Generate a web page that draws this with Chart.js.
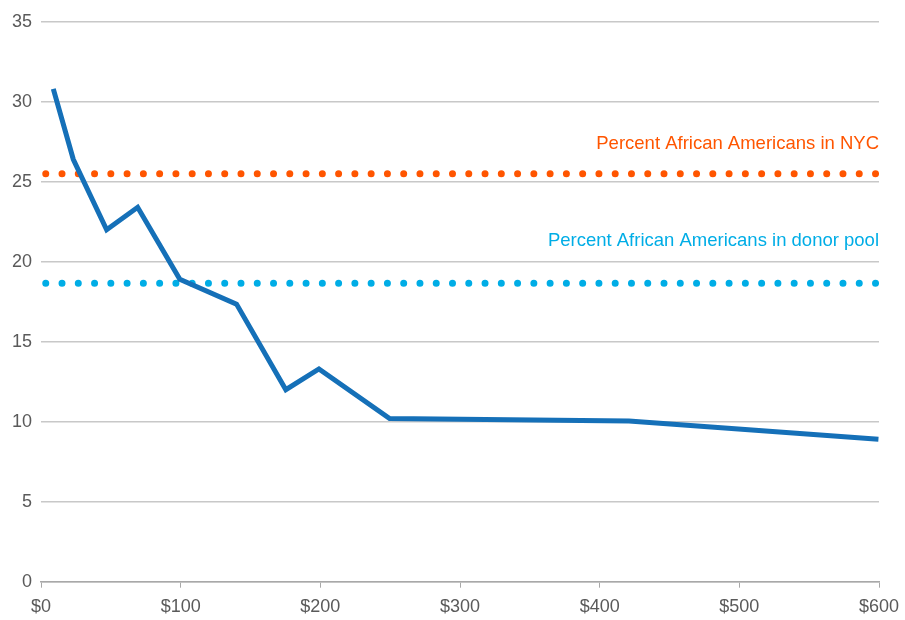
<!DOCTYPE html>
<html>
<head>
<meta charset="utf-8">
<script src="https://cdn.jsdelivr.net/npm/chart.js@4"></script>
<style>
  html, body { margin:0; padding:0; background:#fff; }
  #wrap { width:905px; height:620px; }
</style>
</head>
<body>
<div id="wrap"><canvas id="c" width="905" height="620"></canvas></div>
<script>
// donation size ($) vs percent African American donors
const donationX = [8.8, 23.1, 47, 69.2, 99.4, 140, 175.3, 199, 249.6, 421, 599.6];
const pctAfricanAmerican = [30.8, 26.4, 22.0, 23.4, 18.9, 17.35, 12.0, 13.3, 10.2, 10.05, 8.9];

// reference levels
const refSpanX = [3.4, 599.2];
const nycPct = 25.5;
const donorPoolPct = 18.65;
const refLabels = ['Percent African Americans in NYC', 'Percent African Americans in donor pool'];

const xTicks = [0, 100, 200, 300, 400, 500, 600];
const yTicks = [0, 5, 10, 15, 20, 25, 30, 35];

const BLUE = '#1570b8', ORANGE = '#ff5500', CYAN = '#00ade6';
const TICK_COLOR = '#5a5a5a';
const FONT = "'Liberation Sans', Arial, Helvetica, sans-serif";

const pts = donationX.map((x, i) => ({ x, y: pctAfricanAmerican[i] }));
const refLine = v => refSpanX.map(x => ({ x, y: v }));

const dotted = color => ({
  borderColor: color, borderWidth: 7, borderDash: [0, 16.27],
  borderCapStyle: 'round', pointRadius: 0, fill: false, tension: 0
});

// text labels above the reference lines
const refLabelPlugin = {
  id: 'refLabels',
  afterDatasetsDraw(chart){
    const { ctx, chartArea, scales:{ y } } = chart;
    ctx.save();
    ctx.font = '18.5px ' + FONT;
    ctx.textAlign = 'right';
    ctx.textBaseline = 'middle';
    ctx.fillStyle = ORANGE;
    ctx.fillText(refLabels[0], chartArea.right, y.getPixelForValue(nycPct) - 30);
    ctx.fillStyle = CYAN;
    ctx.fillText(refLabels[1], chartArea.right, y.getPixelForValue(donorPoolPct) - 42);
    ctx.restore();
  }
};

new Chart(document.getElementById('c'), {
  type: 'line',
  data: {
    datasets: [
      { data: pts, borderColor: BLUE, borderWidth: 5, pointRadius: 0, fill: false, tension: 0, borderJoinStyle: 'miter' },
      Object.assign({ data: refLine(nycPct) }, dotted(ORANGE)),
      Object.assign({ data: refLine(donorPoolPct) }, dotted(CYAN))
    ]
  },
  options: {
    responsive: false,
    animation: false,
    layout: { padding: { top: 21.7, right: 26, bottom: 0, left: 0 } },
    plugins: { legend: { display: false }, tooltip: { enabled: false } },
    scales: {
      x: {
        type: 'linear', min: 0, max: 600,
        afterBuildTicks: s => { s.ticks = xTicks.map(v => ({ value: v })); },
        afterFit: s => { s.height = 38.3; s.paddingLeft = 0; s.paddingRight = 0; },
        grid: { drawOnChartArea: false, drawTicks: true, tickLength: 6, color: '#a8a8a8', lineWidth: 1 },
        border: { display: true, color: '#a8a8a8', width: 1.5 },
        ticks: { color: TICK_COLOR, font: { family: FONT, size: 18 }, padding: 9, maxRotation: 0,
                 callback: v => '$' + v }
      },
      y: {
        min: 0, max: 35,
        afterBuildTicks: s => { s.ticks = yTicks.map(v => ({ value: v })); },
        afterFit: s => { s.width = 41; s.paddingTop = 0; s.paddingBottom = 0; },
        grid: { drawTicks: false, color: '#c8c8c8', lineWidth: 1.5 },
        border: { display: false },
        ticks: { color: TICK_COLOR, font: { family: FONT, size: 18 }, padding: 9 }
      }
    }
  },
  plugins: [refLabelPlugin]
});
</script>
</body>
</html>
